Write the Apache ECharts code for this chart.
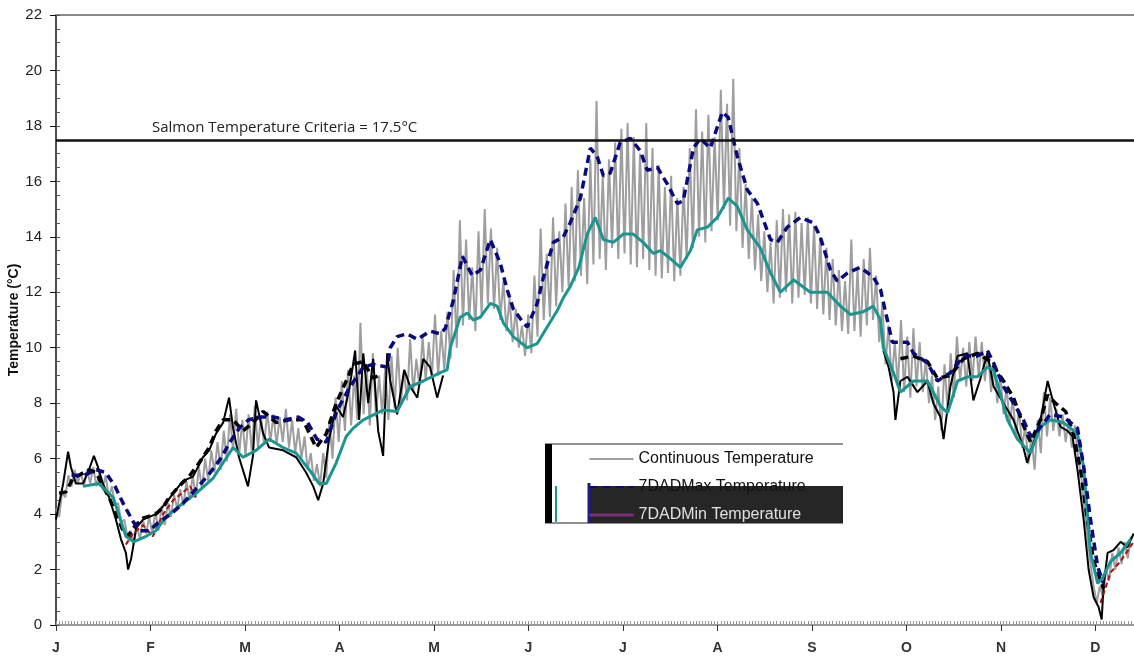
<!DOCTYPE html>
<html>
<head>
<meta charset="utf-8">
<script src="https://cdn.jsdelivr.net/npm/echarts@6.0.0/dist/echarts.min.js"></script>
<style>
html, body { margin: 0; padding: 0; background: #fff; }
#chart { width: 1134px; height: 661px; }
</style>
</head>
<body>
<div id="chart"></div>
<script>
// x is a day counter, months drawn evenly spaced
var MONTH = 365 / 12;
var months = ['J', 'F', 'M', 'A', 'M', 'J', 'J', 'A', 'S', 'O', 'N', 'D'];
var criteria = 17.5;

// continuous temperature, one reading per day from day 0
var continuousTemps = [
    4.2,3.9,4.8,4.6,5.4,5.0,5.6,5.1,5.5,5.0,
    5.6,5.1,5.7,5.0,5.5,4.9,5.4,4.6,5.0,4.3,
    4.4,3.7,3.8,3.2,3.4,2.9,3.6,3.1,3.8,3.3,
    3.9,3.3,4.1,3.4,4.3,3.6,4.4,3.9,4.7,4.2,
    4.9,4.3,5.2,4.5,5.4,4.6,5.7,4.9,6.0,5.2,
    6.3,5.5,6.6,5.6,7.0,5.9,7.6,6.3,7.8,6.2,
    7.4,6.1,7.6,6.3,7.9,6.4,7.5,6.5,7.7,6.6,
    7.6,6.5,7.5,6.6,7.8,6.4,7.4,6.2,7.1,6.0,
    6.8,5.6,6.2,5.2,5.8,5.0,6.2,5.3,7.4,6.0,
    8.2,6.6,8.8,7.0,9.2,7.2,9.0,7.4,10.9,7.6,
    9.4,7.2,9.8,7.5,9.0,7.6,9.3,7.4,9.7,7.8,
    10.0,8.0,9.2,8.1,10.3,8.4,9.6,8.6,10.4,8.8,
    10.2,8.9,11.2,9.0,10.6,9.2,11.3,9.6,12.8,10.0,
    14.6,10.8,13.9,11.0,12.9,10.6,14.2,11.2,15.0,11.6,
    14.3,11.4,13.6,11.0,12.4,10.6,11.8,10.2,11.4,10.0,
    10.8,9.7,11.2,9.8,12.6,10.4,14.3,11.0,13.4,11.1,
    14.7,11.5,14.2,12.0,15.2,12.2,15.8,12.4,16.4,12.6,
    15.4,12.3,16.8,13.0,18.9,13.2,16.2,12.8,16.8,13.6,
    17.4,13.2,17.9,13.4,18.1,13.0,17.6,12.9,17.0,13.2,
    18.1,12.8,17.2,12.6,16.6,12.5,15.8,12.7,16.2,12.4,
    15.4,12.6,15.8,13.2,17.2,13.6,18.6,14.0,17.8,13.8,
    18.4,14.2,17.6,14.6,19.3,15.0,18.8,14.4,19.7,14.2,
    17.2,13.6,15.9,13.2,15.4,12.8,14.8,12.4,14.2,12.0,
    13.8,11.6,14.6,11.8,15.0,12.0,14.8,11.6,14.9,11.8,
    14.5,11.9,14.7,11.6,14.4,11.4,14.0,11.2,13.6,11.0,
    13.2,10.8,12.8,10.6,12.4,10.5,13.9,10.6,12.8,10.4,
    13.2,10.8,13.6,11.0,12.6,10.2,11.6,9.4,10.8,8.8,
    10.2,8.6,11.0,8.4,10.4,8.2,10.7,8.6,10.2,8.4,
    9.6,8.0,9.0,7.4,8.6,7.0,9.4,7.8,9.8,8.2,
    10.4,8.8,10.0,8.6,10.2,8.8,10.4,9.0,10.2,8.8,
    9.9,8.4,9.4,8.0,9.0,7.6,8.6,7.2,8.2,6.8,
    7.8,6.4,7.2,5.8,6.8,5.6,7.4,6.2,8.4,6.8,
    8.2,7.0,7.8,6.8,7.6,6.6,7.4,6.4,7.2,6.0,
    5.4,4.2,3.2,2.2,1.4,0.8,1.4,1.0,2.0,1.6,
    2.6,2.0,2.8,2.2,3.0,2.4,3.2
];

// [day, temp]
var dadMax = [
    [5,5.4],[9,5.4],[13,5.6],[16,5.5],[19,5.0],[22,4.3],[25,3.7],[27,3.4],[30,3.4],[33,3.7],
    [37,4.0],[41,4.4],[45,4.9],[49,5.4],[53,6.0],[56,6.6],[59,7.1],[62,7.4],[66,7.5],[70,7.5],
    [74,7.4],[78,7.5],[81,7.3],[84,6.7],[87,6.6],[90.5,7.75],[94.7,8.6],[98.9,9.3],[102.1,9.4],
    [106.6,9.3],[107.6,10.0],[109.8,10.4],[113,10.5],[116.3,10.3],[120.4,10.6],[123.7,10.5],
    [125.3,10.7],[127.9,11.7],[130.8,13.3],[134,12.6],[136.6,12.8],[139.8,13.9],[143,13.05],
    [145.2,12.1],[147.2,11.4],[150.4,10.9],[151.7,10.75],[154.9,11.6],[156.8,12.5],[160.1,13.8],
    [163.3,14.0],[165.5,14.5],[168.8,15.4],[172,17.2],[174.2,16.9],[176.2,16.2],[178.4,16.3],
    [181.6,17.4],[184.9,17.55],[188.1,17.1],[190.3,16.4],[193.6,16.5],[196.8,15.9],[200,15.2],
    [201.9,15.3],[205.2,17.2],[207.4,17.55],[210.6,17.2],[214.5,18.5],[216.4,18.3],[219.3,16.9],
    [222.5,15.7],[225.8,15.2],[230,13.9],[232.2,13.8],[235.4,14.35],[239.6,14.7],[243.8,14.5],
    [246,14.0],[249.3,12.8],[251.5,12.4],[254.8,12.7],[258.9,12.9],[263.1,12.55],[265.4,12.1],
    [267.6,11.0],[269.2,10.2],[274.1,10.2],[276,9.8],[280.5,9.45],[283.7,8.8],[287.9,9.1],
    [292.1,9.7],[296.6,9.7],[299.8,9.9],[301.8,9.45],[305,8.6],[308.2,8.0],[311.4,7.4],
    [313.7,6.8],[315.9,7.0],[320.1,7.6],[324.3,7.5],[328.8,7.1],[330.8,5.7],[333,3.8],
    [335.3,2.1],[337.2,1.5]
];

var dadMin = [
    [8.7,5.0],[13.8,5.1],[18.4,4.6],[22.5,3.2],[25,3.0],[29,3.2],[32.2,3.4],[35.4,3.9],
    [40.9,4.4],[45.1,4.75],[50.6,5.3],[53.8,5.85],[57,6.4],[60.2,6.05],[64.4,6.3],[68.6,6.7],
    [73.1,6.4],[77.3,6.2],[81.5,5.6],[84.7,5.1],[87,5.1],[90.2,5.85],[93.4,6.8],[95.7,7.1],
    [98.9,7.4],[105.3,7.75],[109.8,7.7],[114,8.6],[118.2,8.8],[123.7,9.1],[125.9,9.2],
    [126.9,10.0],[130.1,11.1],[132.4,11.25],[134.3,11.0],[136.6,11.1],[139.8,11.6],[142,11.5],
    [144,10.9],[147.2,10.4],[149.4,10.2],[151.7,10.0],[154.9,10.15],[158.1,10.75],[161.4,11.35],
    [163.3,11.8],[165.5,12.2],[168.3,12.9],[171,14.1],[173.6,14.7],[176.2,13.9],[179.4,13.8],
    [182.6,14.1],[185.8,14.1],[189,13.8],[192.3,13.4],[194.5,13.5],[196.8,13.3],[201,12.9],
    [204.2,13.5],[206.4,14.25],[209.7,14.35],[212.9,14.7],[216.4,15.4],[219.3,15.1],[222.5,14.25],
    [226.7,13.6],[230,12.7],[233.2,12.0],[237.4,12.45],[242.8,12.0],[248.3,12.0],[252.5,11.5],
    [255.7,11.2],[259.9,11.3],[263.1,11.5],[265.4,11.0],[266.3,10.0],[269.6,9.1],[271.8,8.4],
    [276,8.8],[280.5,8.8],[284.7,7.9],[287,7.65],[290.2,8.8],[293.4,8.95],[296.6,8.95],
    [299.8,9.3],[301.8,9.2],[306.3,7.4],[309.5,6.7],[313.7,6.2],[316.9,7.15],[320.1,7.4],
    [324.3,7.3],[328.8,6.9],[330.8,5.7],[333,2.6],[335.3,1.5],[336.9,1.7],[339.5,2.3],
    [342.7,2.6],[345.9,3.1]
];

// second record (black), winter/spring and autumn parts
var blackEarly = [
    [0,3.8],[2.3,5.1],[3.9,6.25],[4.8,5.7],[6.4,5.1],[8.7,5.1],[10.6,5.6],[12.2,6.1],[13.5,5.7],
    [15.1,5.1],[17.1,4.6],[19.3,3.8],[20.9,3.1],[22.5,2.6],[23.2,2.0],[24.2,2.4],[24.8,2.8],
    [25.8,3.5],[28,3.8],[30,3.9],[32.2,4.0],[35.4,4.4],[37.7,4.75],[40.9,5.2],[44.1,5.35],
    [47.3,6.05],[49.3,6.3],[51.5,6.9],[53.8,7.3],[55.7,8.2],[57,7.1],[58.9,6.05],[61.8,5.0],
    [63.4,6.1],[64.4,8.1],[66.7,6.9],[68.6,6.4],[73.1,6.3],[77.3,6.05],[80.5,5.5],[82.8,5.0],
    [84.4,4.5],[86,5.1],[87.9,6.7],[90.2,7.9],[92.4,7.5],[94.4,8.5],[96.3,9.9],[97.6,7.4],
    [98.9,9.8],[100.5,8.0],[102.1,9.6],[103.7,7.0],[105.3,6.1],[106.6,9.8],[107.6,8.8],
    [109.8,7.6],[112.1,9.2],[114,8.6],[116.3,8.2],[118.2,9.6],[120.4,9.3],[122.7,8.2],[124.6,9.0]
];
var blackLate = [
    [266.3,9.9],[268,9.3],[269.6,8.4],[270.2,7.4],[271.8,8.8],[274.1,8.95],[277.3,8.4],[280.5,8.8],
    [282.4,8.0],[284.7,7.5],[285.7,6.7],[287.9,8.6],[290.2,9.7],[293.4,9.8],[295.3,8.1],[297.6,8.9],
    [299.8,9.8],[301.8,8.6],[305,8.0],[308.2,7.4],[311.4,6.4],[312.6,5.85],[314.6,6.55],[316.9,7.4],
    [319.2,8.8],[321.1,8.0],[323.3,7.15],[325.6,7.0],[327.2,6.8],[328.8,5.6],[330.8,3.8],[332.4,2.0],
    [334,1.0],[335.6,0.65],[336.6,0.2],[337.2,1.4],[338.5,2.6],[340.4,2.7],[342.7,3.0],[344.9,2.8],
    [346.9,3.3]
];
var blackMaxEarly = [
    [1,4.75],[3.2,4.8],[5.5,5.3],[7.4,5.4],[10.6,5.6],[12.9,5.5],[15.1,5.0],[17.1,4.6],[19.3,4.0],
    [21.6,3.4],[23.2,3.2],[24.8,3.5],[28,3.85],[32.2,4.0],[34.5,4.25],[36.4,4.6],[39.6,5.0],
    [42.8,5.35],[46.1,5.85],[49.3,6.4],[51.5,7.0],[53.8,7.4],[57,7.4],[60.2,7.0],[63.4,7.3],
    [66.7,7.7],[70.9,7.3],[75,7.4],[79.5,7.4],[83.7,6.4],[87,6.9],[90.2,8.0],[93.4,8.8],
    [95.7,9.4],[98.9,9.5],[102,8.9],[104,9.0]
];
var blackMaxLate = [
    [271.8,9.6],[276,9.7],[280.5,9.5],[283.7,8.9],[287.9,9.0],[292.1,9.6],[296.6,9.8],[300.8,9.5],
    [305,8.8],[308.2,8.2],[311.4,7.2],[313.7,6.6],[316.9,7.4],[319.2,8.3],[321.7,8.0],[325,7.7],
    [327.5,6.9],[329.8,5.6],[332,3.8],[334,2.3],[335.3,1.9],[337.2,1.3]
];
var redEarly = [[22.5,2.9],[24.8,3.3],[28,3.6],[31.2,3.2],[34.5,4.0],[37.7,4.5],[43.2,5.0],[45.4,4.5]];
var redLate = [[336.2,0.8],[339.5,1.9],[342.7,2.3],[346.9,3.0]];

var continuousData = continuousTemps.map(function (t, i) { return [i, t]; });

function blackLine(name, data, dashed) {
    return {
        name: name, type: 'line', data: data, symbol: 'none', z: 3,
        lineStyle: { color: '#000', width: dashed ? 3.5 : 2, type: dashed ? [8, 5] : 'solid' }
    };
}

var chart = echarts.init(document.getElementById('chart'));
chart.setOption({
    animation: false,
    textStyle: { fontFamily: 'Liberation Sans, Arial, sans-serif' },
    grid: { left: 56, top: 15, right: 0, bottom: 36, outerBoundsMode: 'none', containLabel: false },
    legend: {
        left: 583, top: 446, orient: 'vertical', padding: 5,
        itemWidth: 44, itemHeight: 14, itemGap: 12,
        itemStyle: { opacity: 0 },
        textStyle: { fontSize: 16, color: '#111' },
        data: [
            { name: 'Continuous Temperature' },
            { name: '7DADMax Temperature' },
            { name: '7DADMin Temperature', lineStyle: { color: '#7b2f7b', width: 3 },
              textStyle: { color: '#e0e0e0' } }
        ]
    },
    graphic: [
        { type: 'line', z: 3, shape: { x1: 545, y1: 444, x2: 843, y2: 444 }, style: { stroke: '#222', lineWidth: 1 } },
        { type: 'rect', z: 3, shape: { x: 545, y: 444, width: 7, height: 79 }, style: { fill: '#000' } },
        { type: 'rect', z: 3, shape: { x: 589, y: 486, width: 254, height: 37 }, style: { fill: '#262626' } },
        { type: 'line', z: 3, shape: { x1: 589, y1: 483, x2: 589, y2: 523 }, style: { stroke: '#1a1a8a', lineWidth: 3 } },
        { type: 'line', z: 3, shape: { x1: 556, y1: 486, x2: 556, y2: 522 }, style: { stroke: '#1a9590', lineWidth: 2 } },
        { type: 'line', z: 3, shape: { x1: 545, y1: 523, x2: 843, y2: 523 }, style: { stroke: '#222', lineWidth: 1 } }
    ],
    xAxis: [
        {
            type: 'value', min: 0, max: 347, interval: MONTH, position: 'bottom',
            axisLine: { lineStyle: { color: '#777', width: 1.5 } },
            axisTick: { length: 6, lineStyle: { color: '#333' } },
            axisLabel: {
                margin: 16, fontSize: 14, fontWeight: 'bold', color: '#333',
                formatter: function (v) {
                    var i = Math.round(v / MONTH);
                    return Math.abs(v - i * MONTH) < 0.01 && months[i] ? months[i] : '';
                }
            },
            splitLine: { show: false }
        },
        {
            type: 'value', min: 0, max: 347, interval: 1, position: 'bottom',
            axisLine: { show: false },
            axisTick: { inside: true, length: 4, lineStyle: { color: '#999' } },
            axisLabel: { show: false }, splitLine: { show: false }
        },
        {
            type: 'value', min: 0, max: 347, position: 'top',
            axisLine: { lineStyle: { color: '#8a8a8a', width: 2 } },
            axisTick: { show: false }, axisLabel: { show: false }, splitLine: { show: false }
        }
    ],
    yAxis: [
        {
            type: 'value', min: 0, max: 22, interval: 2, position: 'left',
            name: 'Temperature (°C)', nameLocation: 'middle', nameGap: 35, nameMoveOverlap: false,
            nameTextStyle: { fontWeight: 'bold', fontSize: 14, color: '#111' },
            axisLine: { show: true, lineStyle: { color: '#111', width: 1.5 } },
            axisTick: { show: true, length: 6, lineStyle: { color: '#111' } },
            axisLabel: { fontSize: 15, color: '#222', margin: 14 },
            splitLine: { show: false }
        },
        {
            type: 'value', min: 0, max: 22, interval: 0.5, position: 'left',
            axisLine: { show: false },
            axisTick: { show: true, inside: true, length: 4, lineStyle: { color: '#555' } },
            axisLabel: { show: false }, splitLine: { show: false }
        }
    ],
    series: [
        {
            name: 'Continuous Temperature', type: 'line', data: continuousData, symbol: 'none', z: 2,
            lineStyle: { color: '#9e9e9e', width: 2 }, itemStyle: { color: '#9e9e9e' },
            markLine: {
                silent: true, symbol: 'none',
                lineStyle: { color: '#111', width: 2.5, type: 'solid' },
                label: {
                    show: true, position: 'insideStartTop', distance: [96, 5],
                    formatter: 'Salmon Temperature Criteria = 17.5°C',
                    fontFamily: 'Open Sans', fontSize: 15, color: '#222'
                },
                data: [{ yAxis: criteria }]
            }
        },
        blackLine('black1', blackEarly, false),
        blackLine('black2', blackLate, false),
        blackLine('black3', blackMaxEarly, true),
        blackLine('black4', blackMaxLate, true),
        { name: 'red1', type: 'line', data: redEarly, symbol: 'none', z: 3, lineStyle: { color: '#b01010', width: 2, type: [5, 3] } },
        { name: 'red2', type: 'line', data: redLate, symbol: 'none', z: 3, lineStyle: { color: '#b01010', width: 2, type: [5, 3] } },
        {
            name: '7DADMin Temperature', type: 'line', data: dadMin, symbol: 'none', z: 4,
            lineStyle: { color: '#1a9590', width: 3 }, itemStyle: { color: '#1a9590' }
        },
        {
            name: '7DADMax Temperature', type: 'line', data: dadMax, symbol: 'none', z: 4,
            lineStyle: { color: '#0a0a80', width: 3.5, type: [8, 5] }, itemStyle: { color: '#0a0a80' }
        }
    ]
});
</script>
</body>
</html>
